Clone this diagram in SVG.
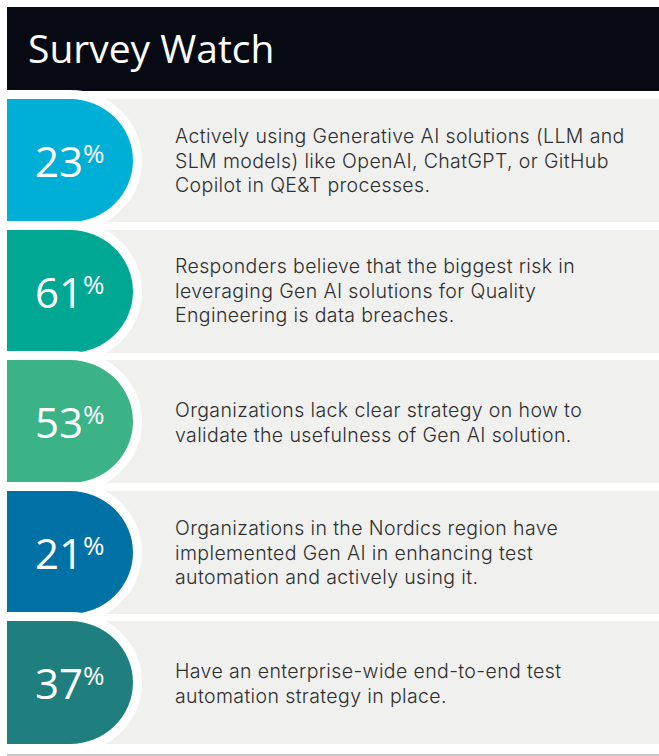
<svg xmlns="http://www.w3.org/2000/svg" width="659" height="756" viewBox="0 0 659 756">
<style>
.bg{fill:#f0f0ef}
.ring{fill:none;stroke:#ffffff;stroke-width:18}
.num{font-family:"Open Sans","Liberation Sans",sans-serif;font-size:42px;fill:#ffffff;font-weight:500}
.pct{font-size:26px}
.desc{font-family:Inter,"Open Sans","Liberation Sans",sans-serif;font-size:19.5px;font-weight:300;letter-spacing:0.38px;fill:#2e2e2e}
</style>
<defs>
<path id="pill" d="M7,0 H70 A63,61.5 0 0 1 70,123 H7 Z"/>
</defs>
<rect x="0" y="0" width="659" height="756" fill="#ffffff"/>
<g id="header">
<rect x="7" y="7" width="652" height="84" fill="#070a13"/>
<text x="28" y="63" font-family="Open Sans, Liberation Sans, sans-serif" font-size="39" font-weight="500" fill="#ffffff">Survey Watch</text>
</g>
<g id="row1">
<rect class="bg" x="7" y="99" width="652" height="123"/>
<use href="#pill" y="99" class="ring"/>
<use href="#pill" y="99" fill="#00afd6"/>
<text class="num" x="35" y="177">23<tspan class="pct" dy="-14">%</tspan></text>
<text class="desc"><tspan x="175" y="143">Actively using Generative AI solutions (LLM and</tspan><tspan x="175" y="167.5">SLM models) like OpenAI, ChatGPT, or GitHub</tspan><tspan x="175" y="192">Copilot in QE&amp;T processes.</tspan></text>
</g>
<g id="row2">
<rect class="bg" x="7" y="230" width="652" height="123"/>
<use href="#pill" y="230" class="ring"/>
<use href="#pill" y="230" fill="#00a793"/>
<text class="num" x="35" y="308">61<tspan class="pct" dy="-14">%</tspan></text>
<text class="desc"><tspan x="175" y="273">Responders believe that the biggest risk in</tspan><tspan x="175" y="297.5">leveraging Gen AI solutions for Quality</tspan><tspan x="175" y="322">Engineering is data breaches.</tspan></text>
</g>
<g id="row3">
<rect class="bg" x="7" y="360" width="652" height="123"/>
<use href="#pill" y="360" class="ring"/>
<use href="#pill" y="360" fill="#3bb386"/>
<text class="num" x="35" y="438">53<tspan class="pct" dy="-14">%</tspan></text>
<text class="desc"><tspan x="175" y="417">Organizations lack clear strategy on how to</tspan><tspan x="175" y="441.5">validate the usefulness of Gen AI solution.</tspan></text>
</g>
<g id="row4">
<rect class="bg" x="7" y="491" width="652" height="123"/>
<use href="#pill" y="491" class="ring"/>
<use href="#pill" y="491" fill="#0071a4"/>
<text class="num" x="35" y="569">21<tspan class="pct" dy="-14">%</tspan></text>
<text class="desc"><tspan x="175" y="535">Organizations in the Nordics region have</tspan><tspan x="175" y="559.5">implemented Gen AI in enhancing test</tspan><tspan x="175" y="584">automation and actively using it.</tspan></text>
</g>
<g id="row5">
<rect class="bg" x="7" y="621" width="652" height="123"/>
<use href="#pill" y="621" class="ring"/>
<use href="#pill" y="621" fill="#1f7f7f"/>
<text class="num" x="35" y="699">37<tspan class="pct" dy="-14">%</tspan></text>
<text class="desc"><tspan x="175" y="678">Have an enterprise-wide end-to-end test</tspan><tspan x="175" y="702.5">automation strategy in place.</tspan></text>
</g>
<g id="connectors"></g>
<line x1="7" y1="755" x2="659" y2="755" stroke="#b5b5b5" stroke-width="1.5"/>
</svg>
